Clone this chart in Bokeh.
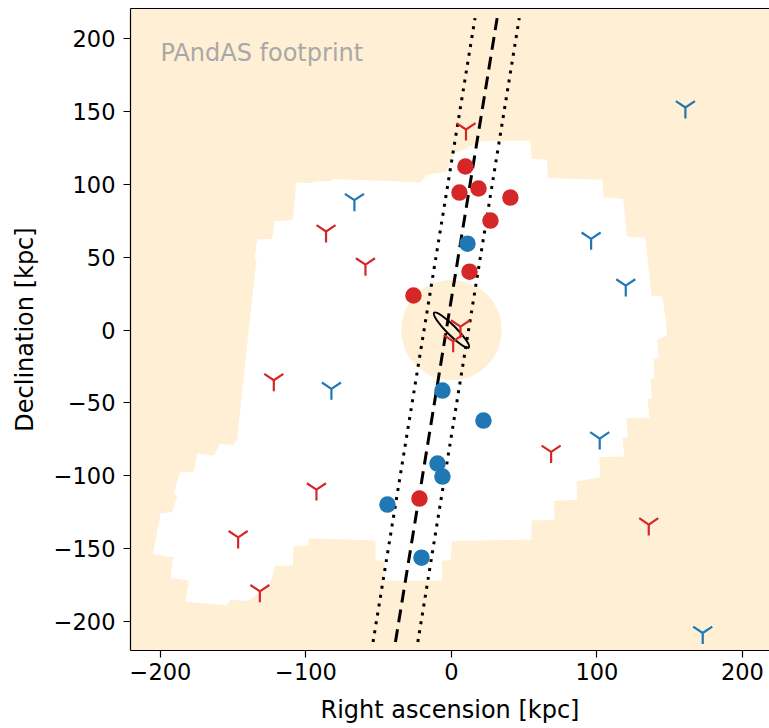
import numpy as np
from bokeh.plotting import figure
from bokeh.models import Range1d, FixedTicker, LinearAxis, Label
from bokeh.embed import file_html
from bokeh.resources import INLINE

# ---------------- data ----------------
x_ticks = [-200, -100, 0, 100, 200]
x_tick_labels = ["\u2212200", "\u2212100", "0", "100", "200"]
y_ticks = [-200, -150, -100, -50, 0, 50, 100, 150, 200]
y_tick_labels = ["\u2212200", "\u2212150", "\u2212100", "\u221250", "0", "50", "100", "150", "200"]

red_dwarf_x = [9.6, 5.5, 18.6, 40.5, 26.8, 12.4, -26.1, -22.0]
red_dwarf_y = [112.2, 94.3, 97.1, 90.9, 75.1, 40.1, 23.7, -115.6]
blue_dwarf_x = [11.0, -6.2, 22.0, -9.6, -6.2, -44.0, -20.6]
blue_dwarf_y = [59.3, -41.5, -62.1, -91.6, -100.5, -119.7, -156.1]

red_tri_x = [10.0, -86.2, -59.1, 6.2, 1.2, -122.1, 68.5, -92.8, 135.6, -146.6, -131.7]
red_tri_y = [137.6, 67.6, 44.9, 2.4, -7.7, -34.4, -83.6, -109.4, -133.4, -142.2, -179.2]
blue_tri_x = [-66.7, 160.8, 96.0, 119.8, -82.5, 101.9, 172.7]
blue_tri_y = [89.1, 152.7, 62.6, 30.5, -40.3, -74.4, -207.8]

footprint_x = [-106.7, -96.9, -93.5, -83.2, -80.9, -21.3, -16.7, -4.1, 2.7, 6.2, 16.5, 17.7,
               54.3, 55.0, 65.8, 66.2, 103.6, 104.7, 118.0, 120.8, 133.3, 137.5, 144.8, 147.1,
               148.2, 141.4, 142.5, 139.0, 139.5, 136.8, 137.9, 134.9, 136.1, 120.3, 121.2, 117.5,
               118.9, 101.7, 102.4, 85.9, 86.6, 70.3, 71.0, 55.0, 55.0, 0.5, -0.7, -6.4, -6.4,
               -45.4, -46.5, -52.2, -52.2, -98.1, -98.1, -108.4, -109.1, -121.0, -124.4, -139.3,
               -151.9, -154.6, -182.8, -180.5, -193.1, -191.3, -205.0, -200.0, -192.0, -188.5,
               -190.9, -186.7, -177.1, -174.8, -163.4, -158.8, -149.6, -147.3, -138.6, -134.0,
               -135.4, -133.5, -123.2, -121.6, -109.1]
footprint_y = [101.4, 100.7, 102.1, 101.9, 103.7, 101.4, 106.7, 108.3, 121.8, 122.7, 127.8, 129.5,
               130.0, 117.5, 116.8, 104.4, 103.1, 91.1, 90.0, 64.2, 63.3, 23.7, 23.2, 8.8,
               -3.8, -6.7, -19.1, -19.8, -33.1, -33.8, -46.5, -47.5, -60.2, -60.5, -73.6, -74.0,
               -86.8, -87.3, -101.0, -103.7, -116.3, -117.2, -130.2, -130.7, -143.7, -144.6, -158.1,
               -158.1, -171.9, -171.9, -158.1, -158.1, -144.4, -142.8, -147.9, -148.5, -161.6,
               -161.6, -173.2, -185.6, -185.1, -189.0, -186.3, -171.9, -170.0, -155.9, -153.6,
               -125.7, -125.0, -113.6, -112.4, -97.6, -97.6, -84.9, -86.1, -78.1, -78.6, -74.6,
               6.5, 48.2, 48.9, 62.1, 62.6, 74.6, 75.6]

inner_x = [0.0]
inner_y = [0.0]
inner_radius = [34.5]

disk_x = [0.0]
disk_y = [0.0]
disk_major = [33.7]
disk_minor = [6.5]
disk_angle_deg = [135.0]

axis_line_x = [-38.5, 31.4]
axis_line_y = [-214.0, 214.0]
band_left_x = [-53.9, 16.2]
band_right_x = [-23.1, 46.6]
band_y = [-214.0, 214.0]

RED = "#d62728"
BLUE = "#1f77b4"
BG = "#ffefd5"
FONT = "DejaVu Sans"

# ---------------- figure ----------------
p = figure(width=769, height=728, output_backend="svg", toolbar_location=None,
           x_range=Range1d(-220.6, 218.6), y_range=Range1d(-219.8, 220.6),
           min_border_left=130, min_border_right=0, min_border_top=8, min_border_bottom=78)
p.background_fill_color = BG
p.border_fill_color = "white"
p.outline_line_color = None
p.grid.visible = False

p.patch(footprint_x, footprint_y, fill_color="white", line_color=None)
p.circle(x=inner_x, y=inner_y, radius=inner_radius, fill_color=BG, line_color=None)

p.line(band_left_x, band_y, line_color="black", line_width=3, line_dash="3 6")
p.line(band_right_x, band_y, line_color="black", line_width=3, line_dash="3 6")
p.line(axis_line_x, axis_line_y, line_color="black", line_width=3, line_dash="13 7")

p.ellipse(x=disk_x, y=disk_y, width=disk_major, height=disk_minor,
          angle=list(np.deg2rad(disk_angle_deg)), fill_color=None,
          line_color="black", line_width=2)

p.scatter(red_tri_x, red_tri_y, marker="y", size=22, line_color=RED, line_width=2.2, fill_color=None)
p.scatter(blue_tri_x, blue_tri_y, marker="y", size=22, line_color=BLUE, line_width=2.2, fill_color=None)
p.scatter(red_dwarf_x, red_dwarf_y, marker="circle", size=16.5, fill_color=RED, line_color=None)
p.scatter(blue_dwarf_x, blue_dwarf_y, marker="circle", size=16.5, fill_color=BLUE, line_color=None)

p.add_layout(Label(x=-200, y=190, text="PAndAS footprint", text_color="#a8a8a8",
                   text_font=FONT, text_font_size="24px", text_baseline="alphabetic"))

# axes
p.xaxis.ticker = FixedTicker(ticks=x_ticks)
p.xaxis.major_label_overrides = dict(zip(x_ticks, x_tick_labels))
p.yaxis.ticker = FixedTicker(ticks=y_ticks)
p.yaxis.major_label_overrides = dict(zip(y_ticks, y_tick_labels))
p.xaxis.axis_label = "Right ascension [kpc]"
p.yaxis.axis_label = "Declination [kpc]"
for ax in (p.xaxis[0], p.yaxis[0]):
    ax.axis_line_color = "black"
    ax.axis_line_width = 1.2
    ax.major_tick_line_color = "black"
    ax.major_tick_line_width = 1.2
    ax.major_tick_out = 7
    ax.major_tick_in = 0
    ax.minor_tick_line_color = None
    ax.major_label_text_font = FONT
    ax.major_label_text_font_size = "22.5px"
    ax.major_label_text_color = "black"
    ax.axis_label_text_font = FONT
    ax.axis_label_text_font_size = "24px"
    ax.axis_label_text_font_style = "normal"
    ax.axis_label_text_color = "black"
p.xaxis.major_label_standoff = 5
p.xaxis.axis_label_standoff = 13
p.yaxis.major_label_standoff = 8
p.yaxis.axis_label_standoff = 12

top = LinearAxis(ticker=FixedTicker(ticks=[]), major_label_text_font_size="0px",
                 axis_line_color="black", axis_line_width=1.2,
                 major_tick_out=0, major_tick_in=0, minor_tick_out=0, minor_tick_in=0,
                 major_label_standoff=0)
p.add_layout(top, "above")

open("out.html", "w").write(file_html(p, INLINE))
